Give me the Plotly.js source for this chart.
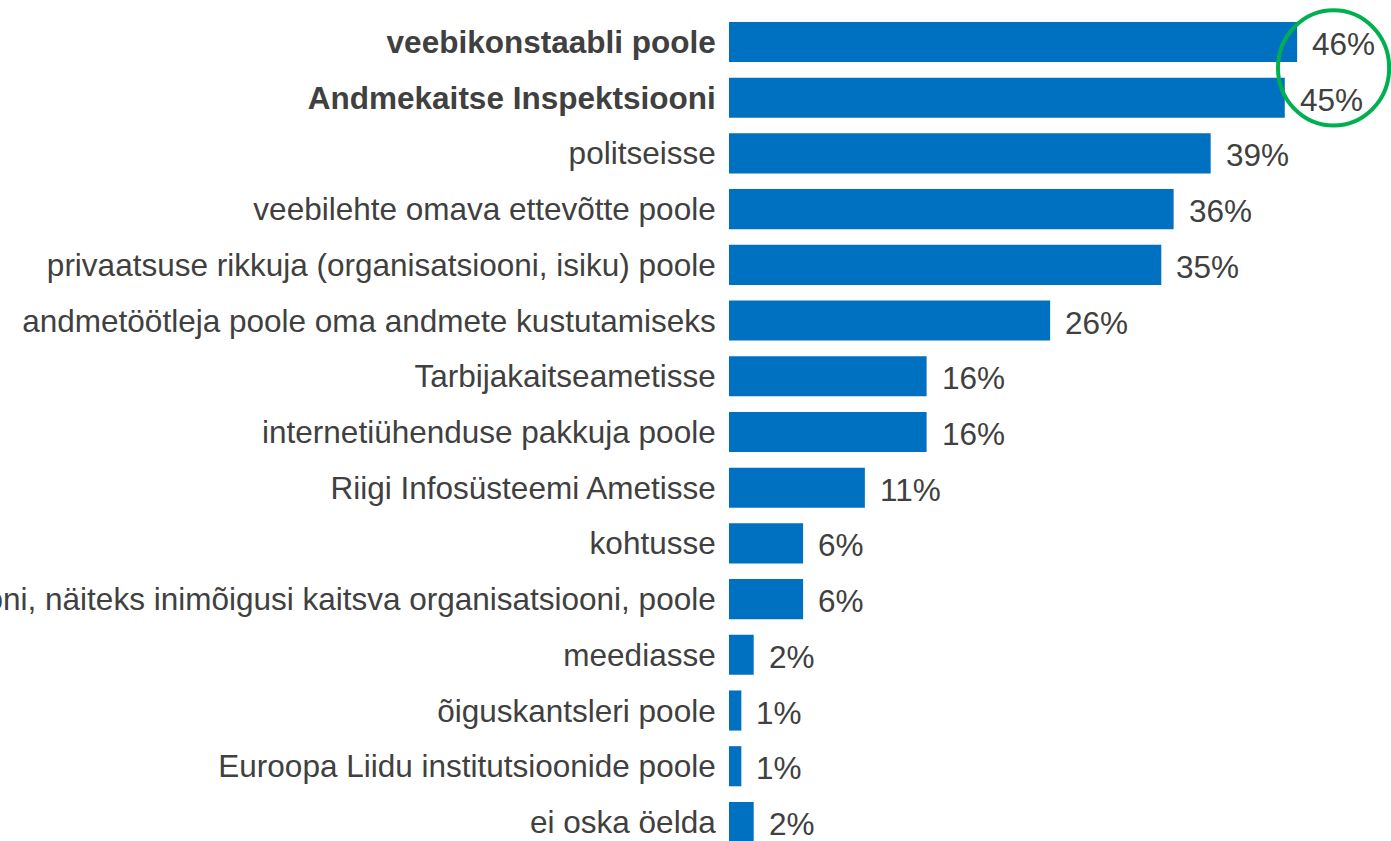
<!DOCTYPE html>
<html>
<head>
<meta charset="utf-8">
<script src="https://cdn.plot.ly/plotly-3.0.1.min.js"></script>
<style>html,body{margin:0;padding:0;background:#fff;overflow:hidden}#chart{width:1391px;height:841px}</style>
</head>
<body>
<div id="chart"></div>
<script>
const categories = [
  "veebikonstaabli poole",
  "Andmekaitse Inspektsiooni",
  "politseisse",
  "veebilehte omava ettevõtte poole",
  "privaatsuse rikkuja (organisatsiooni, isiku) poole",
  "andmetöötleja poole oma andmete kustutamiseks",
  "Tarbijakaitseametisse",
  "internetiühenduse pakkuja poole",
  "Riigi Infosüsteemi Ametisse",
  "kohtusse",
  "mõne muu organisatsiooni, näiteks inimõigusi kaitsva organisatsiooni, poole",
  "meediasse",
  "õiguskantsleri poole",
  "Euroopa Liidu institutsioonide poole",
  "ei oska öelda"
];
const values = [46, 45, 39, 36, 35, 26, 16, 16, 11, 6, 6, 2, 1, 1, 2];
const boldItems = [0, 1];

const tickText = categories.map((c, i) => boldItems.includes(i) ? "<b>" + c + "</b>" : c);
const FONT = 'Arial, Liberation Sans, sans-serif';
const TXT = '#404040';

const trace = {
  type: 'bar',
  orientation: 'h',
  x: values,
  y: categories,
  marker: {color: '#0070C0'},
  width: 0.72,
  hoverinfo: 'skip'
};

const annotations = values.map((v, i) => ({
  x: v, y: categories[i], xref: 'x', yref: 'y',
  text: v + '%', showarrow: false, xanchor: 'left', yanchor: 'middle',
  xshift: 13, yshift: -2, font: {family: FONT, size: 31.5, color: TXT}
}));

const layout = {
  width: 1391, height: 841,
  margin: {l: 729, r: 0, t: 0, b: 0, pad: 0},
  paper_bgcolor: '#fff', plot_bgcolor: '#fff',
  showlegend: false,
  font: {family: FONT, size: 31.5, color: TXT},
  xaxis: {range: [0, 53.6], visible: false, fixedrange: true},
  yaxis: {
    type: 'category',
    categoryorder: 'array', categoryarray: categories,
    tickvals: categories, ticktext: tickText,
    range: [14.342, -0.754], autorange: false,
    ticks: 'outside', ticklen: 6, tickcolor: 'rgba(0,0,0,0)',
    showline: false, showgrid: false, zeroline: false,
    tickfont: {family: FONT, size: 31.5, color: TXT},
    automargin: false
  },
  annotations: annotations,
  shapes: [{
    type: 'circle', xref: 'x', yref: 'y',
    x0: 44.45, x1: 53.45, y0: -0.57, y1: 1.5,
    line: {color: '#00B050', width: 4}
  }]
};

Plotly.newPlot('chart', [trace], layout, {displayModeBar: false, staticPlot: true});
</script>
</body>
</html>
